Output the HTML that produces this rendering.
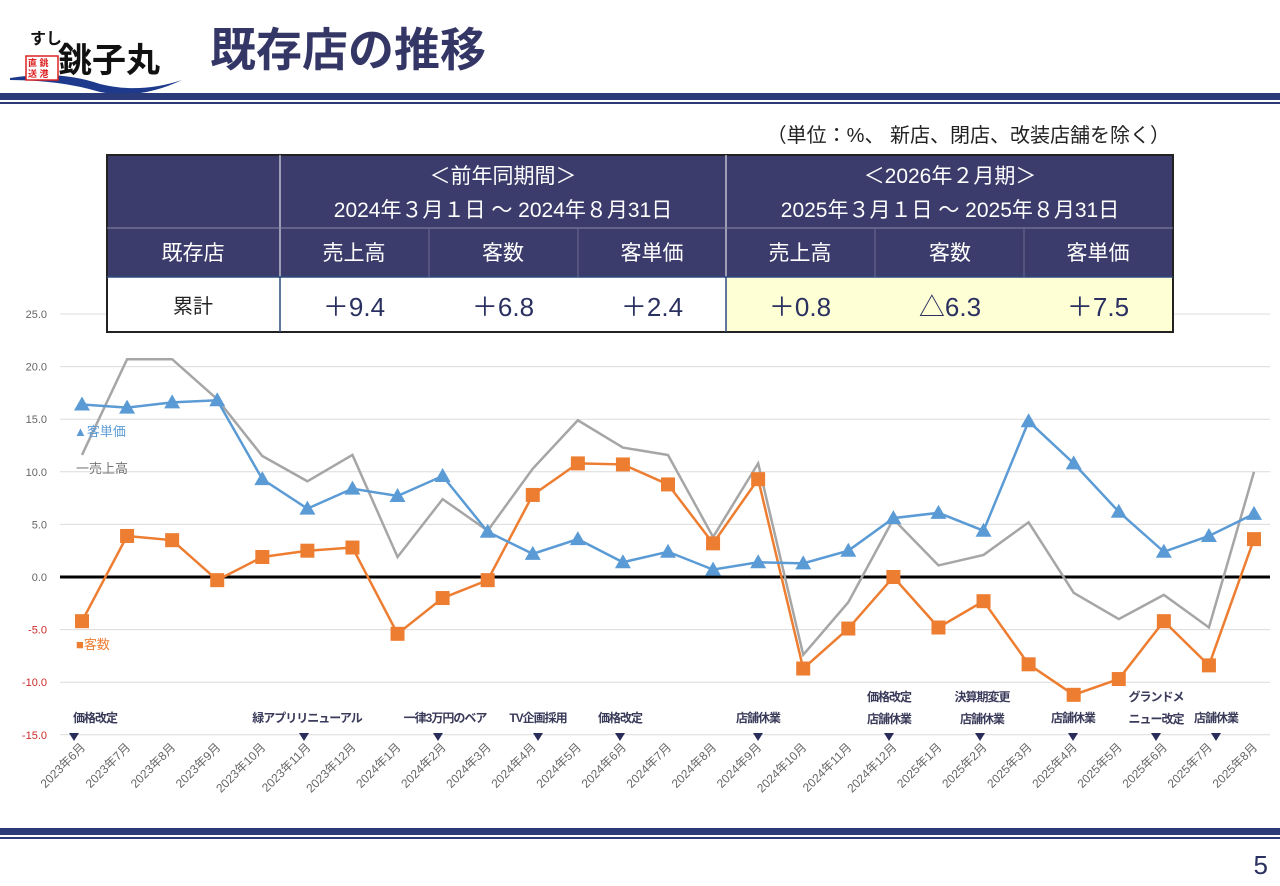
<!DOCTYPE html>
<html><head><meta charset="utf-8">
<style>
body{margin:0;background:#fff;font-family:"Liberation Sans","Noto Sans CJK JP",sans-serif;}
#wrap{position:relative;width:1280px;height:886px;overflow:hidden;}
svg text{font-family:"Liberation Sans","Noto Sans CJK JP",sans-serif;}
</style></head><body>
<div id="wrap">
<svg id="svg" width="1280" height="886" viewBox="0 0 1280 886">
  <g>
    <path d="M10 78 Q60 70 100 84 Q140 94 182 80 Q140 100 100 92 Q60 80 10 80Z" fill="#1d3a8c"/>
    <text x="30" y="44" font-size="16" font-weight="bold" fill="#111">すし</text>
    <rect x="26" y="56" width="32" height="24" fill="#fff" stroke="#d22" stroke-width="1.5"/>
    <text x="28" y="66" font-size="9" fill="#d22" font-weight="bold">直 銚</text>
    <text x="28" y="77" font-size="9" fill="#d22" font-weight="bold">送 港</text>
    <text x="58" y="72" font-size="34" font-weight="bold" fill="#111" font-family="Noto Serif CJK SC,serif">銚子丸</text>
  </g>
  <text x="210" y="66" font-size="46" font-weight="bold" fill="#343666">既存店の推移</text>
  <rect x="0" y="93" width="1280" height="7" fill="#2b3a78"/>
  <rect x="0" y="102" width="1280" height="2" fill="#2b3a78"/>
  <text x="1170" y="142" font-size="20" fill="#222" text-anchor="end">（単位：%、 新店、閉店、改装店舗を除く）</text>

  <g id="chart"></g>

  <g>
    <rect x="107" y="155" width="1066" height="122" fill="#3c3c6c"/>
    <rect x="107" y="277" width="619" height="55" fill="#fff"/>
    <rect x="726" y="277" width="447" height="55" fill="#ffffd6"/>
    <rect x="107" y="155" width="1066" height="177" fill="none" stroke="#222" stroke-width="2"/>
    <line x1="280" y1="155" x2="280" y2="332" stroke="#fff" stroke-width="1"/>
    <line x1="280" y1="277" x2="280" y2="332" stroke="#2b4a80" stroke-width="1.5"/>
    <line x1="726" y1="155" x2="726" y2="277" stroke="#fff" stroke-width="1"/>
    <line x1="726" y1="277" x2="726" y2="332" stroke="#2b4a80" stroke-width="1.5"/>
    <line x1="107" y1="228" x2="1173" y2="228" stroke="#8888aa" stroke-width="1"/>
    <line x1="107" y1="277" x2="1173" y2="277" stroke="#2b4a80" stroke-width="1.5"/>
    <line x1="429" y1="228" x2="429" y2="277" stroke="#6a6a90"/>
    <line x1="578" y1="228" x2="578" y2="277" stroke="#6a6a90"/>
    <line x1="875" y1="228" x2="875" y2="277" stroke="#6a6a90"/>
    <line x1="1024" y1="228" x2="1024" y2="277" stroke="#6a6a90"/>
    <g fill="#fff" font-size="21" text-anchor="middle">
      <text x="503" y="183">＜前年同期間＞</text>
      <text x="503" y="217">2024年３月１日 ～ 2024年８月31日</text>
      <text x="950" y="183">＜2026年２月期＞</text>
      <text x="950" y="217">2025年３月１日 ～ 2025年８月31日</text>
      <text x="193" y="260">既存店</text>
      <text x="354" y="260">売上高</text>
      <text x="503" y="260">客数</text>
      <text x="652" y="260">客単価</text>
      <text x="800" y="260">売上高</text>
      <text x="950" y="260">客数</text>
      <text x="1098" y="260">客単価</text>
    </g>
    <g fill="#2a3060" font-size="26" text-anchor="middle">
      <text x="193" y="313" font-size="20" fill="#222">累計</text>
      <text x="354" y="316">＋9.4</text>
      <text x="503" y="316">＋6.8</text>
      <text x="652" y="316">＋2.4</text>
      <text x="800" y="316">＋0.8</text>
      <text x="950" y="316">△6.3</text>
      <text x="1098" y="316">＋7.5</text>
    </g>
  </g>

  <rect x="0" y="828" width="1280" height="7" fill="#2b3a78"/>
  <rect x="0" y="837" width="1280" height="2" fill="#2b3a78"/>
  <text x="1268" y="874" font-size="26" fill="#2a3060" text-anchor="end">5</text>
</svg>
</div>
<script>
const categories=["2023年6月","2023年7月","2023年8月","2023年9月","2023年10月","2023年11月","2023年12月","2024年1月","2024年2月","2024年3月","2024年4月","2024年5月","2024年6月","2024年7月","2024年8月","2024年9月","2024年10月","2024年11月","2024年12月","2025年1月","2025年2月","2025年3月","2025年4月","2025年5月","2025年6月","2025年7月","2025年8月"];
const unitPrice=[16.4,16.1,16.6,16.8,9.3,6.5,8.4,7.7,9.6,4.3,2.2,3.6,1.4,2.4,0.7,1.4,1.3,2.5,5.6,6.1,4.4,14.8,10.8,6.2,2.4,3.9,6.0];
const customers=[-4.2,3.9,3.5,-0.3,1.9,2.5,2.8,-5.4,-2.0,-0.3,7.8,10.8,10.7,8.8,3.2,9.3,-8.7,-4.9,0.0,-4.8,-2.3,-8.3,-11.2,-9.7,-4.2,-8.4,3.6];
const sales=[11.6,20.7,20.7,16.9,11.5,9.1,11.6,1.9,7.4,4.4,10.3,14.9,12.3,11.6,3.8,10.8,-7.4,-2.4,5.5,1.1,2.1,5.2,-1.5,-4.0,-1.7,-4.8,10.0];
const yTicks=[25,20,15,10,5,0,-5,-10,-15];
const annText=[[95,74,"価格改定",""],[307,304,"緑アプリリニューアル",""],[445,438,"一律3万円のベア",""],[538,538,"TV企画採用",""],[620,620,"価格改定",""],[758,758,"店舗休業",""],[889,889,"価格改定","店舗休業"],[982,980,"決算期変更","店舗休業"],[1073,1073,"店舗休業",""],[1156,1156,"グランドメ","ニュー改定"],[1216,1216,"店舗休業",""]];
const NS="http://www.w3.org/2000/svg";
const g=document.getElementById('chart');
const X0=82,X1=1254,Y0=577,PPU=10.52;
const x=i=>X0+(X1-X0)*i/(categories.length-1);
const y=v=>Y0-v*PPU;
function mk(t,a,p){const e=document.createElementNS(NS,t);for(const k in a)e.setAttribute(k,a[k]);(p||g).appendChild(e);return e;}
yTicks.forEach(v=>{
  const l=mk('line',{x1:60,x2:1270,y1:y(v),y2:y(v),stroke:v===0?'#000':'#dcdcdc','stroke-width':v===0?3:1});
  
  
  const t=mk('text',{x:47,y:y(v)+4,'font-size':11,fill:v<0?'#cc2a2a':'#666','text-anchor':'end'});
  t.textContent=v.toFixed(1);
  
  
});
categories.forEach((c,i)=>{
  const t=mk('text',{x:x(i)+4,y:748,'font-size':12,fill:'#666','text-anchor':'end',transform:`rotate(-45 ${x(i)+4} 748)`});
  t.textContent=c;
  
  
});
function series(vals,color,name){
  const p=mk('polyline',{points:vals.map((v,i)=>x(i)+','+y(v)).join(' '),fill:'none',stroke:color,'stroke-width':2.5});
  
  
  return p;
}
series(sales,'#a6a6a6','sales');
series(customers,'#ed7d31','customers');
series(unitPrice,'#5b9bd5','unit-price');
customers.forEach((v,i)=>{
  const r=mk('rect',{x:x(i)-7,y:y(v)-7,width:14,height:14,fill:'#ed7d31'});
  
  
});
unitPrice.forEach((v,i)=>{
  const cx=x(i),cy=y(v);
  const p=mk('polygon',{points:`${cx},${cy-8} ${cx-8},${cy+6} ${cx+8},${cy+6}`,fill:'#5b9bd5'});
  
  
});
[[74,436,'▲客単価','#5b9bd5'],[76,473,'一売上高','#777'],[76,649,'■客数','#ed7d31']].forEach(a=>{
  const t=mk('text',{x:a[0],y:a[1],'font-size':13,fill:a[3]});t.textContent=a[2];
  
  
});
annText.forEach(a=>{
  const tx=a[0];
  const two=a[3]!=="";
  const t1=mk('text',{x:tx,y:two?701:722,'font-size':12,'font-weight':'bold',fill:'#3a3a5a','text-anchor':'middle','letter-spacing':-1});t1.textContent=a[2];
  
  
  if(two){const t2=mk('text',{x:tx,y:723,'font-size':12,'font-weight':'bold',fill:'#3a3a5a','text-anchor':'middle','letter-spacing':-1});t2.textContent=a[3];
  
  }
  const ax=a[1];
  const m=mk('polygon',{points:`${ax-5},${733} ${ax+5},${733} ${ax},${741}`,fill:'#2a2d5a'});
  
  
});
</script>
</body></html>
